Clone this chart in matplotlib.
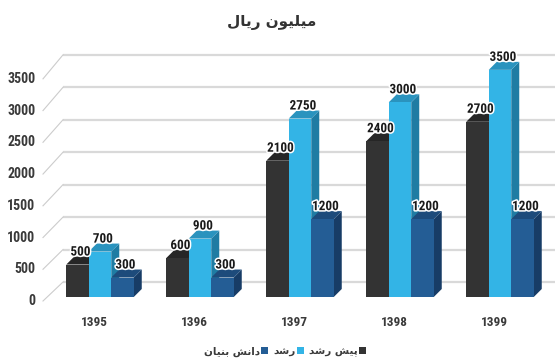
import matplotlib
matplotlib.use("Agg")
import matplotlib.pyplot as plt
from matplotlib.patches import Polygon, Rectangle
from matplotlib import font_manager as fm
import matplotlib.patheffects as pe

# ---- data ----
years = ["1395", "1396", "1397", "1398", "1399"]
series_names = ["پیش رشد", "رشد", "دانش بنیان"]
pre_growth = [500, 600, 2100, 2400, 2700]
growth = [700, 900, 2750, 3000, 3500]
knowledge_based = [300, 300, 1200, 1200, 1200]
y_ticks = [0, 500, 1000, 1500, 2000, 2500, 3000, 3500]
title = "میلیون ریال"

series = [pre_growth, growth, knowledge_based]
face_colors = ["#333333", "#33b4e6", "#245d95"]
top_colors = ["#262626", "#2a93be", "#1d4b7b"]
side_colors = ["#1c1c1c", "#1f7ca3", "#173c66"]

# ---- minimal Persian shaping (presentation forms, visual order) ----
FORMS = {
    'ا': ('\uFE8D', '\uFE8E'),
    'د': ('\uFEA9', '\uFEAA'),
    'ر': ('\uFEAD', '\uFEAE'),
    'و': ('\uFEED', '\uFEEE'),
    'ب': ('\uFE8F', '\uFE90', '\uFE91', '\uFE92'),
    'پ': ('\uFB56', '\uFB57', '\uFB58', '\uFB59'),
    'ش': ('\uFEB5', '\uFEB6', '\uFEB7', '\uFEB8'),
    'ل': ('\uFEDD', '\uFEDE', '\uFEDF', '\uFEE0'),
    'م': ('\uFEE1', '\uFEE2', '\uFEE3', '\uFEE4'),
    'ن': ('\uFEE5', '\uFEE6', '\uFEE7', '\uFEE8'),
    'ی': ('\uFBFC', '\uFBFD', '\uFBFE', '\uFBFF'),
}


def shape_rtl(s):
    out = []
    for i, ch in enumerate(s):
        f = FORMS.get(ch)
        if f is None:
            out.append(ch)
            continue
        prev = s[i - 1] if i > 0 else None
        nxt = s[i + 1] if i + 1 < len(s) else None
        jp = prev in FORMS and len(FORMS[prev]) == 4
        jn = len(f) == 4 and nxt in FORMS
        if jp and jn:
            out.append(f[3])
        elif jp:
            out.append(f[1])
        elif jn:
            out.append(f[2])
        else:
            out.append(f[0])
    return "".join(reversed(out))


# pick a narrow face for the numbers if one is installed
_installed = {(f.name, f.stretch) for f in fm.fontManager.ttflist}
_names = {n for n, _ in _installed}
NUM_FONT = ["DejaVu Sans"]
NUM_STRETCH = "normal"
for cand in ["Liberation Sans Narrow", "Roboto Condensed", "Open Sans Condensed",
             "Noto Sans Condensed", "Arial Narrow"]:
    if cand in _names:
        NUM_FONT = [cand, "DejaVu Sans"]
        break
else:
    if any(n == "DejaVu Sans" and s == "condensed" for n, s in _installed):
        NUM_STRETCH = "condensed"
    elif "Roboto" in _names:
        NUM_FONT = ["Roboto", "DejaVu Sans"]

FA_FONT = ["DejaVu Sans"]
TXT = "#3a3a3a"

W, H = 560, 362
fig = plt.figure(figsize=(W / 100, H / 100), dpi=100)
ax = fig.add_axes([0, 0, 1, 1])
ax.set_axis_off()

# scale: 100 px per category, ~0.0649 px per unit of value
K = 0.0649
BASE = 297
ax.set_xlim(-1.0, 4.6)
ax.set_ylim((BASE - H) / K, BASE / K)

PX = 0.01          # one pixel horizontally, in data units
PY = 1 / K         # one pixel vertically, in data units

# depth of the boxes and of the side wall
DX, DY = 8 * PX, 8 * PY
WALL_DX, WALL_DY = 20 * PX, 15 * PY

num_kw = dict(family=NUM_FONT, fontweight="bold", fontstretch=NUM_STRETCH)

# back wall gridlines and side wall diagonals
wall_x0 = -0.37
for v in y_ticks:
    yb = v + WALL_DY
    ax.plot([wall_x0, 4.55], [yb, yb], color="#d9d9d9", lw=1.6,
            solid_capstyle="butt", zorder=1)
    yl = 0.978 * v - 4 * PY
    ax.plot([wall_x0 - WALL_DX, wall_x0], [yl, yb], color="#cccccc",
            lw=0.8, zorder=1)
    ax.text(-0.645, yl, str(v), ha="right", va="center", fontsize=10,
            color=TXT, **num_kw)

# 3D-looking columns
bw = 0.225
for i in range(len(years)):
    for j, vals in enumerate(series):
        v = vals[i]
        x0 = i + (j - 1.5) * bw
        z = 3 + i * 3 + j
        side = Polygon([(x0 + bw, 0), (x0 + bw + DX, DY), (x0 + bw + DX, v + DY),
                        (x0 + bw, v)], closed=True, facecolor=side_colors[j],
                       edgecolor="none", zorder=z)
        top = Polygon([(x0, v), (x0 + bw, v), (x0 + bw + DX, v + DY),
                       (x0 + DX, v + DY)], closed=True, facecolor=top_colors[j],
                      edgecolor="none", zorder=z)
        ax.add_patch(side)
        ax.add_patch(top)
        ax.bar(x0, v, width=bw, align="edge", color=face_colors[j],
               edgecolor="none", zorder=z)

# value labels
for i in range(len(years)):
    for j, vals in enumerate(series):
        v = vals[i]
        xc = i + (j - 1) * bw + 0.03
        t = ax.text(xc, v + DY - 2 * PY, str(v), ha="center", va="bottom",
                    fontsize=9.5, color="#1a1a1a", zorder=40, **num_kw)
        t.set_path_effects([pe.withStroke(linewidth=2.2, foreground="white")])

# category labels
for i, yr in enumerate(years):
    ax.text(i - 0.06, -25 * PY, yr, ha="center", va="center", fontsize=9.5,
            color=TXT, **num_kw)

# title
fig.text(272 / W, 1 - 23 / H, shape_rtl(title), ha="center", va="center",
         fontsize=11, family=FA_FONT, fontweight="bold", color="#333333")

# legend (right-to-left: marker on the right of each label)
order = [2, 1, 0]
handles = [Rectangle((0, 0), 1, 1, facecolor=face_colors[k], edgecolor="none")
           for k in order]
labels = [shape_rtl(series_names[k]) for k in order]
fig.legend(handles, labels, loc="center", bbox_to_anchor=(285 / W, 1 - 352 / H),
           ncol=3, frameon=False, markerfirst=False, handlelength=0.65,
           handleheight=0.65, handletextpad=0.15, columnspacing=0.5,
           prop={"family": FA_FONT, "size": 7.5, "weight": "bold"},
           labelcolor=TXT)

fig.savefig("out.png", dpi=100)
